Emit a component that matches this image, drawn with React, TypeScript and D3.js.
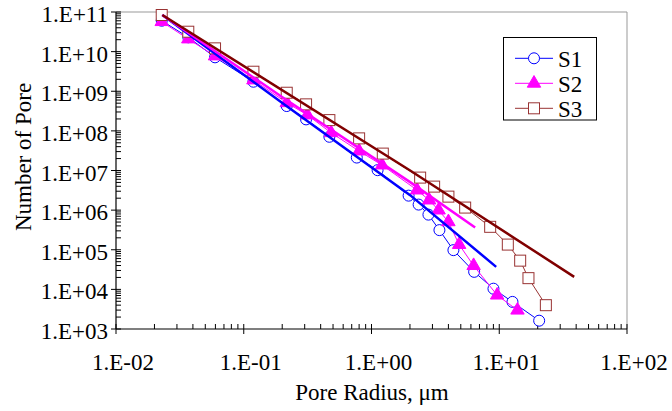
import React from "react";
import * as d3 from "d3";

// ---- data ----
const s1Radius = [0.0228, 0.0368, 0.0596, 0.119, 0.217, 0.3075, 0.468, 0.767, 1.116, 1.952, 2.338, 2.79, 3.402, 4.377, 6.36, 9.01, 12.69, 20.53];
const s1Count = [6.03e10, 2.3e10, 7.18e9, 1.74e9, 4.23e8, 1.95e8, 7.1e7, 2.12e7, 1.02e7, 2.32e6, 1.38e6, 7.7e5, 3.13e5, 9.77e4, 2.77e4, 1.04e4, 4.83e3, 1.62e3];

const s2Radius = [0.0228, 0.0368, 0.0596, 0.119, 0.217, 0.315, 0.483, 0.8, 1.21, 2.275, 2.825, 3.353, 4.0, 4.853, 6.3, 9.63, 13.89];
const s2Count = [5.69e10, 2.08e10, 7.74e9, 1.92e9, 5.12e8, 2.51e8, 8.96e7, 3.09e7, 1.37e7, 3.2e6, 1.79e6, 1.0e6, 5.06e5, 1.35e5, 3.97e4, 7.14e3, 2.98e3];

const s3Radius = [0.0228, 0.0368, 0.0596, 0.119, 0.217, 0.3075, 0.468, 0.8, 1.226, 2.403, 3.092, 4.0, 5.41, 8.49, 11.67, 14.58, 16.93, 23.17];
const s3Count = [8.4e10, 3.18e10, 1.21e10, 3.11e9, 9.17e8, 4.67e8, 1.87e8, 6.47e7, 2.67e7, 6.62e6, 3.92e6, 2.19e6, 1.16e6, 3.79e5, 1.35e5, 5.31e4, 1.92e4, 3.99e3];

// fitted trend lines
const fit1Radius = [0.02305, 0.2106, 2.006, 9.46];
const fit1Count = [8.4e10, 4.48e8, 2.39e6, 3.7e4];
const fit2Radius = [0.02305, 0.1995, 2.006, 6.475];
const fit2Count = [8.4e10, 7.14e8, 5.09e6, 3.66e5];
const fit3Radius = [0.02305, 2.006, 38.6];
const fit3Count = [8.4e10, 1.0e7, 2.07e4];

const seriesNames = ["S1", "S2", "S3"];
const xTickValues = [0.01, 0.1, 1, 10, 100];
const xTickLabels = ["1.E-02", "1.E-01", "1.E+00", "1.E+01", "1.E+02"];
const yTickValues = [1e3, 1e4, 1e5, 1e6, 1e7, 1e8, 1e9, 1e10, 1e11];
const yTickLabels = ["1.E+03", "1.E+04", "1.E+05", "1.E+06", "1.E+07", "1.E+08", "1.E+09", "1.E+10", "1.E+11"];
const xTitle = "Pore Radius, \u03bcm";
const yTitle = "Number of Pore";

// ---- layout ----
const W = 672, H = 411;
const L = 116, R = 627, T = 12, B = 329;
const FONT = "Times New Roman";
const FS = 23;

const C1 = "#0000ff";
const C2 = "#ff00ff";
const C3 = "#993333";
const C3fit = "#800000";

export default function App() {
  const x = d3.scaleLog().domain([0.01, 100]).range([L, R]);
  const y = d3.scaleLog().domain([1e3, 1e11]).range([B, T]);

  const line = d3
    .line<[number, number]>()
    .x((d) => x(d[0]))
    .y((d) => y(d[1]));

  const zip = (a: number[], b: number[]) => a.map((v, i) => [v, b[i]] as [number, number]);
  const s1 = zip(s1Radius, s1Count);
  const s2 = zip(s2Radius, s2Count);
  const s3 = zip(s3Radius, s3Count);

  const tri = d3.symbol().type(d3.symbolTriangle).size(78)();
  const sq = 11;

  const xMinor: number[] = [];
  for (let e = -2; e < 2; e++) for (let k = 2; k <= 9; k++) xMinor.push(k * Math.pow(10, e));
  const yMinor: number[] = [];
  for (let e = 3; e < 11; e++) for (let k = 2; k <= 9; k++) yMinor.push(k * Math.pow(10, e));

  const legY = [58.3, 83.3, 108.3];
  const ts = { fontFamily: FONT, fontSize: FS };

  return (
    <div style={{ position: "absolute", left: 0, top: 0, fontFamily: FONT }}>
      <svg width={W} height={H} fontFamily={FONT}>
        <rect x={0} y={0} width={W} height={H} fill="#fff" />
        <line x1={L} x2={R} y1={T} y2={T} stroke="#999" strokeWidth={1} />
        <line x1={R} x2={R} y1={T} y2={B} stroke="#999" strokeWidth={1} />

        <line x1={L} x2={L} y1={T} y2={B} stroke="#000" strokeWidth={1.2} />
        <line x1={L} x2={R} y1={B} y2={B} stroke="#000" strokeWidth={1.2} />
        {yTickValues.map((v) => (
          <line key={"ym" + v} x1={L - 5} x2={L + 5} y1={y(v)} y2={y(v)} stroke="#000" strokeWidth={1} />
        ))}
        {yMinor.map((v) => (
          <line key={"yn" + v} x1={L} x2={L + 5} y1={y(v)} y2={y(v)} stroke="#000" strokeWidth={1} />
        ))}
        {xTickValues.map((v) => (
          <line key={"xm" + v} x1={x(v)} x2={x(v)} y1={B - 5} y2={B + 5} stroke="#000" strokeWidth={1} />
        ))}
        {xMinor.map((v) => (
          <line key={"xn" + v} x1={x(v)} x2={x(v)} y1={B - 5} y2={B} stroke="#000" strokeWidth={1} />
        ))}
        {yTickValues.map((v, i) => (
          <text key={"yl" + v} x={108} y={y(v) + 10} textAnchor="end" style={ts}>
            {yTickLabels[i]}
          </text>
        ))}
        {xTickValues.map((v, i) => (
          <text key={"xl" + v} x={x(v) + 7} y={370} textAnchor="middle" style={ts}>
            {xTickLabels[i]}
          </text>
        ))}
        <text x={372} y={400} textAnchor="middle" style={ts}>
          {xTitle}
        </text>
        <text x={0} y={0} transform="translate(31,157) rotate(-90)" textAnchor="middle" style={ts}>
          {yTitle}
        </text>

        <path d={line(s1) || ""} fill="none" stroke={C1} strokeWidth={1} />
        {s1.map((d, i) => (
          <circle key={"c" + i} cx={x(d[0])} cy={y(d[1])} r={5.5} fill="#fff" stroke={C1} strokeWidth={1} />
        ))}
        <path d={line(s2) || ""} fill="none" stroke={C2} strokeWidth={1} />
        {s2.map((d, i) => (
          <path key={"t" + i} d={tri || ""} transform={`translate(${x(d[0])},${y(d[1])})`} fill={C2} stroke={C2} strokeWidth={1} />
        ))}
        <path d={line(s3) || ""} fill="none" stroke={C3} strokeWidth={1} />
        {s3.map((d, i) => (
          <rect key={"s" + i} x={x(d[0]) - sq / 2} y={y(d[1]) - sq / 2} width={sq} height={sq} fill="#fff" stroke={C3} strokeWidth={1} />
        ))}

        <path d={line(zip(fit1Radius, fit1Count)) || ""} fill="none" stroke={C1} strokeWidth={2.5} />
        <path d={line(zip(fit2Radius, fit2Count)) || ""} fill="none" stroke={C2} strokeWidth={2.5} />
        <path d={line(zip(fit3Radius, fit3Count)) || ""} fill="none" stroke={C3fit} strokeWidth={2.5} />

        <rect x={503.5} y={37.5} width={93} height={82.5} fill="#fff" stroke="#000" strokeWidth={1} />
        {seriesNames.map((name, i) => {
          const cy = legY[i];
          const col = i === 0 ? C1 : i === 1 ? C2 : C3;
          return (
            <g key={name}>
              <line x1={515} x2={553} y1={cy} y2={cy} stroke={col} strokeWidth={1} />
              {i === 0 && <circle cx={534} cy={cy} r={5.5} fill="#fff" stroke={C1} strokeWidth={1} />}
              {i === 1 && <path d={tri || ""} transform={`translate(534,${cy})`} fill={C2} stroke={C2} strokeWidth={1} />}
              {i === 2 && <rect x={534 - sq / 2} y={cy - sq / 2} width={sq} height={sq} fill="#fff" stroke={C3} strokeWidth={1} />}
              <text x={558} y={cy + 8.5} style={ts}>
                {name}
              </text>
            </g>
          );
        })}
      </svg>
    </div>
  );
}
